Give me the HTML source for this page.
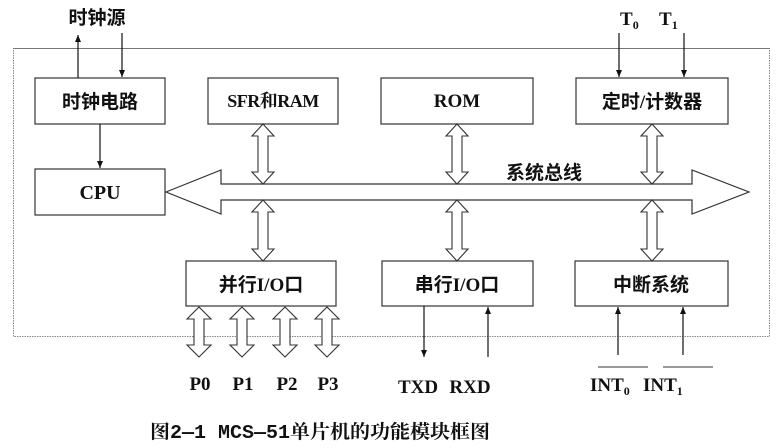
<!DOCTYPE html>
<html><head><meta charset="utf-8"><style>
html,body{margin:0;padding:0;background:#fff;}
svg{display:block;}
text{font-family:"Liberation Serif","Noto Serif CJK SC",serif;font-weight:bold;fill:#111;}
.cj{font-family:"Liberation Serif","Noto Sans CJK SC",sans-serif;}
</style></head><body>
<svg width="783" height="448" viewBox="0 0 783 448" xmlns="http://www.w3.org/2000/svg">
<defs>
<marker id="ah" markerWidth="8" markerHeight="8" refX="7" refY="4" orient="auto" markerUnits="userSpaceOnUse">
<path d="M0,1 L7,4 L0,7 Z" fill="#111"/></marker>
</defs>
<rect x="13.5" y="48.5" width="756" height="288" fill="none" stroke="#888" stroke-width="1" stroke-dasharray="1.5,1"/>
<line x1="13" y1="48.5" x2="770" y2="48.5" stroke="#777" stroke-width="1"/>
<g fill="#fff" stroke="#333" stroke-width="1.2">
<rect x="35" y="78" width="130" height="46"/>
<rect x="208" y="78" width="130" height="46"/>
<rect x="381" y="78" width="152" height="46"/>
<rect x="576" y="78" width="152" height="46"/>
<rect x="35" y="169" width="130" height="46"/>
<rect x="186" y="261" width="150" height="45"/>
<rect x="382" y="261" width="151" height="45"/>
<rect x="575" y="261" width="153" height="45"/>
</g>
<path d="M166,192 L221,170 L221,184 L692,184 L692,170 L749,192 L692,214 L692,200 L221,200 L221,214 Z" fill="#fff" stroke="#333" stroke-width="1.2"/>
<g fill="#fff" stroke="#333" stroke-width="1.1">
<path d="M0,0 L11,12 L5,12 L5,48 L11,48 L0,60 L-11,48 L-5,48 L-5,12 L-11,12 Z" transform="translate(263,124)"/>
<path d="M0,0 L11,12 L5,12 L5,48 L11,48 L0,60 L-11,48 L-5,48 L-5,12 L-11,12 Z" transform="translate(457,124)"/>
<path d="M0,0 L11,12 L5,12 L5,48 L11,48 L0,60 L-11,48 L-5,48 L-5,12 L-11,12 Z" transform="translate(652,124)"/>
<path d="M0,0 L11,12 L5,12 L5,49 L11,49 L0,61 L-11,49 L-5,49 L-5,12 L-11,12 Z" transform="translate(263,200)"/>
<path d="M0,0 L11,12 L5,12 L5,49 L11,49 L0,61 L-11,49 L-5,49 L-5,12 L-11,12 Z" transform="translate(457,200)"/>
<path d="M0,0 L11,12 L5,12 L5,49 L11,49 L0,61 L-11,49 L-5,49 L-5,12 L-11,12 Z" transform="translate(652,200)"/>
<path d="M0,0 L12,12 L5,12 L5,38 L12,38 L0,50 L-12,38 L-5,38 L-5,12 L-12,12 Z" transform="translate(199,307)"/>
<path d="M0,0 L12,12 L5,12 L5,38 L12,38 L0,50 L-12,38 L-5,38 L-5,12 L-12,12 Z" transform="translate(242,307)"/>
<path d="M0,0 L12,12 L5,12 L5,38 L12,38 L0,50 L-12,38 L-5,38 L-5,12 L-12,12 Z" transform="translate(285,307)"/>
<path d="M0,0 L12,12 L5,12 L5,38 L12,38 L0,50 L-12,38 L-5,38 L-5,12 L-12,12 Z" transform="translate(327,307)"/>
</g>
<g stroke="#111" stroke-width="1.2" marker-end="url(#ah)">
<line x1="78" y1="78" x2="78" y2="35"/>
<line x1="122" y1="33" x2="122" y2="77"/>
<line x1="100" y1="124" x2="100" y2="168"/>
<line x1="619" y1="33" x2="619" y2="77"/>
<line x1="684" y1="33" x2="684" y2="77"/>
<line x1="424" y1="306" x2="424" y2="357"/>
<line x1="488" y1="357" x2="488" y2="307"/>
<line x1="618" y1="355" x2="618" y2="307"/>
<line x1="683" y1="355" x2="683" y2="307"/>
</g>
<line x1="598" y1="367" x2="648" y2="367" stroke="#333" stroke-width="1"/>
<line x1="663" y1="367" x2="713" y2="367" stroke="#333" stroke-width="1"/>
<g font-size="19" text-anchor="middle">
<text class="cj" x="97" y="24" font-size="19">时钟源</text>
<text class="cj" x="100" y="108">时钟电路</text>
<text x="273" y="107" font-size="18" letter-spacing="-0.5">SFR和RAM</text>
<text x="457" y="107">ROM</text>
<text class="cj" x="652" y="108">定时/计数器</text>
<text x="100" y="199" font-size="20">CPU</text>
<text class="cj" x="544" y="179">系统总线</text>
<text class="cj" x="261" y="291">并行I/O口</text>
<text class="cj" x="457" y="291">串行I/O口</text>
<text class="cj" x="651" y="291">中断系统</text>
<text x="200" y="390">P0</text>
<text x="243" y="390">P1</text>
<text x="287" y="390">P2</text>
<text x="328" y="390">P3</text>
<text x="418" y="393">TXD</text>
<text x="470" y="393">RXD</text>
</g>
<g font-size="19">
<text x="620" y="25">T<tspan font-size="12" dy="4">0</tspan></text>
<text x="659" y="25">T<tspan font-size="12" dy="4">1</tspan></text>
<text x="590" y="391">INT<tspan font-size="12" dy="4">0</tspan></text>
<text x="643" y="391">INT<tspan font-size="12" dy="4">1</tspan></text>
</g>
<text x="150" y="438" font-size="19" textLength="340" lengthAdjust="spacingAndGlyphs" style="font-family:'Liberation Mono','Noto Serif CJK SC',monospace;">图2—1 MCS—51单片机的功能模块框图</text>
</svg>
</body></html>
